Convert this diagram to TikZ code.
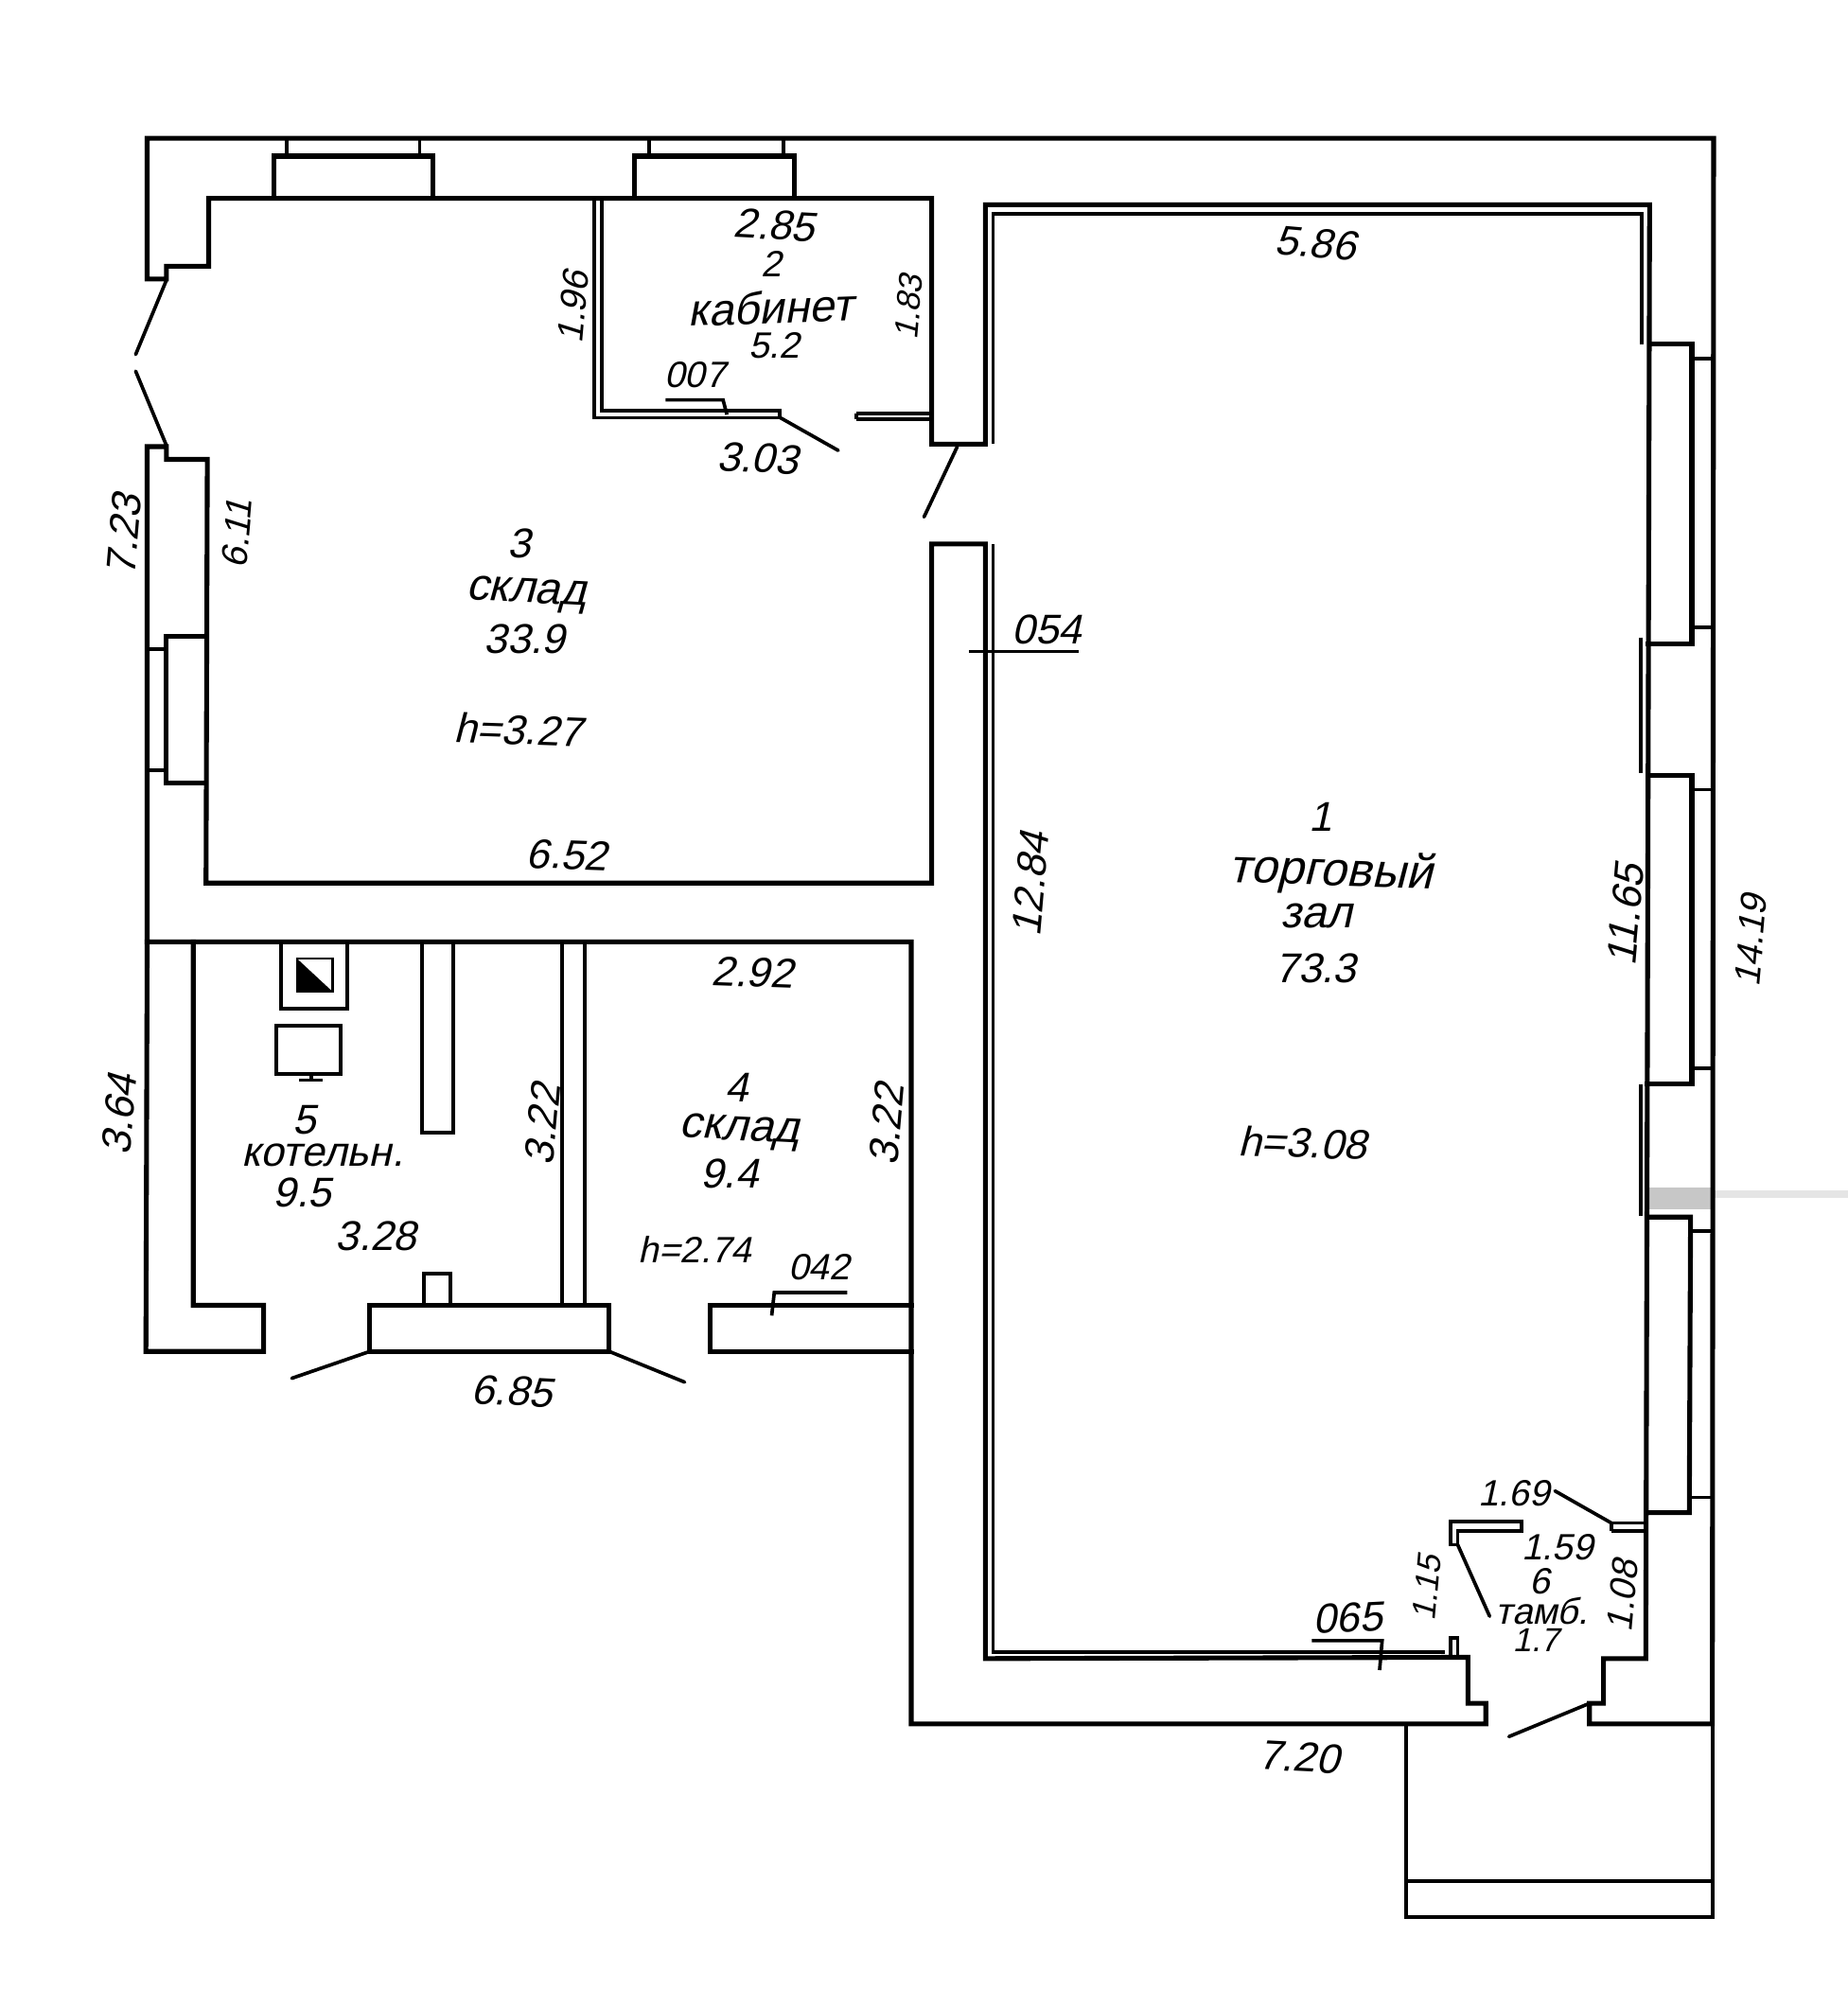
\documentclass[tikz,border=0pt]{standalone}
\usepackage{fontspec}
\newfontfamily\hand[FakeSlant=0.22]{Liberation Sans}
\tikzset{
  wall/.style={line width=1.45pt,line join=miter,line cap=rect,black},
  fine/.style={line width=1.05pt,line cap=butt,black},
  leaf/.style={line width=1.05pt,line cap=round,black},
  lab/.style={font=\hand\fontsize{12.5}{12.5}\selectfont,inner sep=0pt,text=black},
  labs/.style={font=\hand\fontsize{11}{11}\selectfont,inner sep=0pt,text=black},
  labt/.style={font=\hand\fontsize{10}{10}\selectfont,inner sep=0pt,text=black},
  labw/.style={font=\hand\fontsize{13.5}{13.5}\selectfont,inner sep=0pt,text=black},
  smear/.style={fill=black!22,draw=none}
}
\begin{document}
\begin{tikzpicture}[x=0.013525cm,y=-0.013525cm]
\useasboundingbox (0,0) rectangle (1444,1567.5);
\fill[white] (0,0) rectangle (1444,1567.5);
% scan smear
\fill[smear] (1288,928) rectangle (1337,945);
\fill[black!10] (1337,930) rectangle (1444,936);
% outer contour
\draw[wall] (115,218) -- (115,108) -- (1339,108) -- (1338,1347) -- (1242,1347) -- (1242,1331) -- (1253,1331) -- (1253,1296) -- (1286,1296) -- (1289,160) -- (770,160) -- (770,347) -- (728,347) -- (728,155) -- (163,155) -- (163,208) -- (130,208) -- (130,218) -- cycle;
\draw[wall] (115,349) -- (130,349) -- (130,359) -- (162,359) -- (161,690) -- (728,690) -- (728,425) -- (770,425) -- (770,1296) -- (1147,1295) -- (1147,1331) -- (1161,1331) -- (1161,1347) -- (712,1347) -- (712,736) -- (115,736) -- (115,349) -- cycle;
\draw[wall] (115,736) -- (114,1056) -- (206,1056) -- (206,1020) -- (151,1020) -- (151,736);
% inner double lines of hall
\draw[fine] (776,347) -- (776,167) -- (1283,167) -- (1283,269);
\draw[fine] (1282,498) -- (1282,604);
\draw[fine] (1282,847) -- (1282,950);
\draw[fine] (776,425) -- (776,1291) -- (1129,1291);
% top windows
\draw[wall] (214,155) -- (214,122) -- (338,122) -- (338,155);
\draw[fine] (224,108) -- (224,122) (328,108) -- (328,122);
\draw[wall] (496,155) -- (496,122) -- (621,122) -- (621,155);
\draw[fine] (507,108) -- (507,122) (612,108) -- (612,122);
% left window
\draw[wall] (161,497) -- (130,497) -- (130,612) -- (161,612);
\draw[fine] (115,507) -- (130,507) (115,602) -- (130,602);
% right windows
\draw[wall] (1289,269) -- (1322,269) -- (1322,503) -- (1288,503);
\draw[fine] (1322,280) -- (1339,280) (1322,490) -- (1339,490);
\draw[wall] (1288,606) -- (1322,606) -- (1322,847) -- (1287,847);
\draw[fine] (1322,617) -- (1338,617) (1322,835) -- (1338,835);
\draw[wall] (1287,951) -- (1321,951) -- (1320,1182) -- (1287,1182);
\draw[fine] (1321,962) -- (1338,962) (1320,1170) -- (1338,1170);
% cabinet partition
\draw[fine] (464.5,155) -- (464.5,326.5) -- (609,326.5) -- (609,321) -- (470,321) -- (470,155);
\draw[fine] (669,323) -- (728,323) (669,327.5) -- (728,327.5) (669,323) -- (669,327.5);
% doors
\draw[leaf] (130,219) -- (106,277);
\draw[leaf] (106,290) -- (130,348);
\draw[leaf] (609,326) -- (655,352);
\draw[leaf] (748,349) -- (722,404);
\draw[leaf] (289,1056) -- (228,1077);
\draw[leaf] (476,1056) -- (535,1080);
\draw[leaf] (1242,1331) -- (1179,1357);
\draw[leaf] (1139,1207) -- (1164,1263);
\draw[leaf] (1259,1190) -- (1215,1165);
% rooms 4, 5
\draw[fine] (439,736) -- (439,1020) (457,736) -- (457,1020);
\draw[fine,line width=1.15pt] (329.5,736) -- (329.5,885) -- (354,885) -- (354,736);
\draw[wall] (289,1056) rectangle (476,1020);
\draw[wall] (712,1020) -- (555,1020) -- (555,1056) -- (712,1056);
\draw[fine,line width=1.15pt] (331,1020) -- (331,995) -- (352,995) -- (352,1020);
% boiler
\draw[fine] (219.5,736) -- (219.5,788) -- (271.5,788) -- (271.5,736);
\draw[line width=0.7pt,black] (232,749) rectangle (260,775);
\fill[black] (232,749) -- (260,775) -- (232,775) -- cycle;
\draw[fine] (216,801.5) rectangle (266,839);
\draw[fine] (243,839) -- (243,843) (234,844) -- (252,844);
% vestibule
\draw[fine] (1133.5,1189) -- (1189,1189) -- (1189,1196.5) -- (1139,1196.5) -- (1139,1207) -- (1133.5,1207) -- cycle;
\draw[fine] (1259,1190) -- (1286,1190) (1259,1196.5) -- (1286,1196.5) (1259,1190) -- (1259,1196.5);
\draw[fine] (1133.5,1295) -- (1133.5,1280) -- (1139,1280) -- (1139,1295);
% porch
\draw[fine,line width=1.15pt] (1099,1347) -- (1099,1498) -- (1338,1498) -- (1338,1347);
\draw[fine,line width=1.15pt] (1099,1470) -- (1338,1470);
% leaders
\draw[fine] (520,312.5) -- (565,312.5) -- (568,324);
\draw[fine] (757,509) -- (843,509);
\draw[fine] (662,1010) -- (605,1010) -- (603,1028);
\draw[fine] (1025,1282) -- (1080,1282) -- (1078,1305);
% labels
\node[lab,rotate=-3] (a285) at (605,176) {2.85};
\node[labs] (r2) at (603,206) {2};
\node[labw,rotate=2] (kab) at (602,240) {кабинет};
\node[labs] (a52) at (605,270) {5.2};
\node[labs,rotate=85] (a196) at (448,240) {1.96};
\node[labt,rotate=85] (a183) at (710,240) {1.83};
\node[labs] (a007) at (543,293) {007};
\node[lab,rotate=-3] (a303) at (592,358) {3.03};
\node[lab,rotate=-5] (a586) at (1028,190) {5.86};
\node[lab,rotate=85] (a723) at (97,418) {7.23};
\node[labs,rotate=85] (a611) at (185,417) {6.11};
\node[lab] (r3) at (406,425) {3};
\node[labw,rotate=-3] (skl3) at (411,465) {склад};
\node[lab] (a339) at (410,499) {33.9};
\node[lab,rotate=-2] (h327) at (405,570) {h=3.27};
\node[lab,rotate=-2] (a652) at (443,668) {6.52};
\node[lab] (a054) at (818,492) {054};
\node[lab,rotate=85] (a1284) at (805,691) {12.84};
\node[lab] (r1) at (1032,638) {1};
\node[labw,font=\hand\fontsize{14.3}{14.3}\selectfont,rotate=-2] (targ) at (1040,682) {торговый};
\node[labw] (zal) at (1029,716) {зал};
\node[lab] (a733) at (1028,757) {73.3};
\node[lab,rotate=-2] (h308) at (1018,893) {h=3.08};
\node[lab,rotate=85] (a1165) at (1270,715) {11.65};
\node[labs,rotate=85] (a1419) at (1368,735) {14.19};
\node[lab,rotate=-2] (a292) at (588,760) {2.92};
\node[lab,rotate=85] (a364) at (93,871) {3.64};
\node[lab,rotate=85] (a322a) at (424,879) {3.22};
\node[lab,rotate=85] (a322b) at (693,879) {3.22};
\node[lab] (r5) at (238,875) {5};
\node[lab] (kot) at (252,903) {котельн.};
\node[lab] (a95) at (236,932) {9.5};
\node[lab] (a328) at (294,966) {3.28};
\node[lab] (r4) at (576,850) {4};
\node[labw,rotate=-3] (skl4) at (578,885) {склад};
\node[lab] (a94) at (570,917) {9.4};
\node[labs] (h274) at (543,976) {h=2.74};
\node[labs] (a042) at (640,990) {042};
\node[lab,rotate=-3] (a685) at (400,1087) {6.85};
\node[lab,rotate=-3] (a720) at (1015,1373) {7.20};
\node[lab,rotate=3] (a065) at (1053,1264) {065};
\node[labt,rotate=85] (a115) at (1115,1241) {1.15};
\node[labs] (a169) at (1183,1167) {1.69};
\node[labs] (a159) at (1217,1209) {1.59};
\node[labs] (r6) at (1203,1236) {6};
\node[labs] (tamb) at (1205,1259) {тамб.};
\node[labt] (a17) at (1200,1282) {1.7};
\node[labs,rotate=85] (a108) at (1268,1247) {1.08};
\end{tikzpicture}
\end{document}
